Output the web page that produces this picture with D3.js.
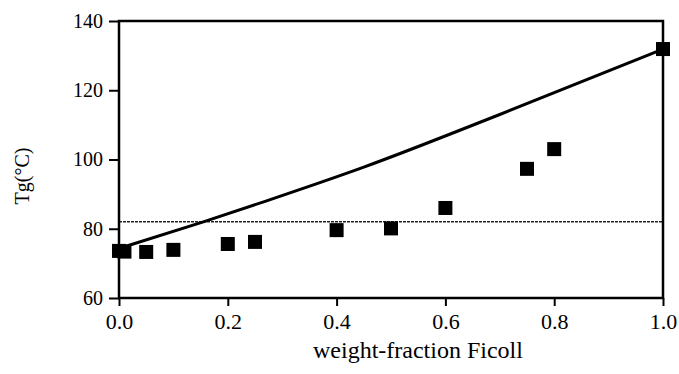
<!DOCTYPE html>
<html>
<head>
<meta charset="utf-8">
<script src="https://cdn.jsdelivr.net/npm/d3@7"></script>
<style>
  body { margin: 0; background: #fff; }
  svg { display: block; font-family: 'Liberation Serif', 'Times New Roman', serif; }
  svg text { font-family: 'Liberation Serif', 'Times New Roman', serif; }
</style>
</head>
<body>
<div id="chart"></div>
<script>
// measured Tg points
var fraction = [0.0, 0.01, 0.05, 0.1, 0.2, 0.25, 0.4, 0.5, 0.6, 0.75, 0.8, 1.0];
var tg = [73.6, 73.4, 73.3, 73.9, 75.6, 76.2, 79.6, 80.1, 86.0, 97.3, 103.0, 131.9];

// solid curve
var lineFraction = [0.01, 0.155, 0.27, 0.45, 0.7, 1.0];
var lineTg = [74.8, 82.0, 88.0, 97.8, 113.0, 131.9];

// dotted reference level
var refTg = 82;

var xTicks = [0.0, 0.2, 0.4, 0.6, 0.8, 1.0];
var yTicks = [60, 80, 100, 120, 140];

var width = 679, height = 374;
var margin = { top: 21, right: 16, bottom: 76, left: 119 };
var plotW = width - margin.left - margin.right;
var plotH = height - margin.top - margin.bottom;
var serif = "'Liberation Serif', 'Times New Roman', serif";

var x = d3.scaleLinear().domain([0, 1]).range([0, plotW]);
var y = d3.scaleLinear().domain([60, 140]).range([plotH, 0]);

var svg = d3.select('#chart')
  .append('svg')
  .attr('width', width)
  .attr('height', height);

var chart = svg.append('g')
  .attr('transform', 'translate(' + margin.left + ',' + margin.top + ')');

// dotted line
chart.append('line')
  .attr('x1', x(0))
  .attr('x2', x(1))
  .attr('y1', y(refTg))
  .attr('y2', y(refTg))
  .attr('stroke', '#222')
  .attr('stroke-width', 1.5)
  .attr('stroke-dasharray', '3,1');

// solid line
var line = d3.line()
  .x(function(d, i) { return x(lineFraction[i]); })
  .y(function(d) { return y(d); })
  .curve(d3.curveMonotoneX);

chart.append('path')
  .datum(lineTg)
  .attr('d', line)
  .attr('fill', 'none')
  .attr('stroke', '#000')
  .attr('stroke-width', 3);

// squares
var size = 14;
chart.selectAll('.pt')
  .data(tg)
  .enter()
  .append('rect')
  .attr('class', 'pt')
  .attr('x', function(d, i) { return x(fraction[i]) - size / 2; })
  .attr('y', function(d) { return y(d) - size / 2; })
  .attr('width', size)
  .attr('height', size)
  .attr('fill', '#000');

// axes
var yAxis = d3.axisLeft(y)
  .tickValues(yTicks)
  .tickSize(10)
  .tickPadding(6);
var xAxis = d3.axisBottom(x)
  .tickValues(xTicks)
  .tickSize(8)
  .tickPadding(7)
  .tickFormat(d3.format('.1f'));

var gy = chart.append('g').call(yAxis);
gy.select('.domain').remove();
gy.selectAll('line').attr('stroke', '#000').attr('stroke-width', 2);
gy.selectAll('text')
  .attr('fill', '#000')
  .style('font-family', serif)
  .style('font-size', '20px');

var gx = chart.append('g')
  .attr('transform', 'translate(0,' + plotH + ')')
  .call(xAxis);
gx.select('.domain').remove();
gx.selectAll('line').attr('stroke', '#000').attr('stroke-width', 2);
gx.selectAll('text')
  .attr('fill', '#000')
  .style('font-family', serif)
  .style('font-size', '22px');

// frame
chart.append('rect')
  .attr('x', 0)
  .attr('y', 0)
  .attr('width', plotW)
  .attr('height', plotH)
  .attr('fill', 'none')
  .attr('stroke', '#000')
  .attr('stroke-width', 2.5);

// titles
svg.append('text')
  .attr('x', 418)
  .attr('y', 358)
  .attr('text-anchor', 'middle')
  .attr('font-size', '24px')
  .text('weight-fraction Ficoll');

svg.append('text')
  .attr('transform', 'translate(29,176) rotate(-90)')
  .attr('text-anchor', 'middle')
  .attr('font-size', '20px')
  .text('Tg(°C)');
</script>
</body>
</html>
